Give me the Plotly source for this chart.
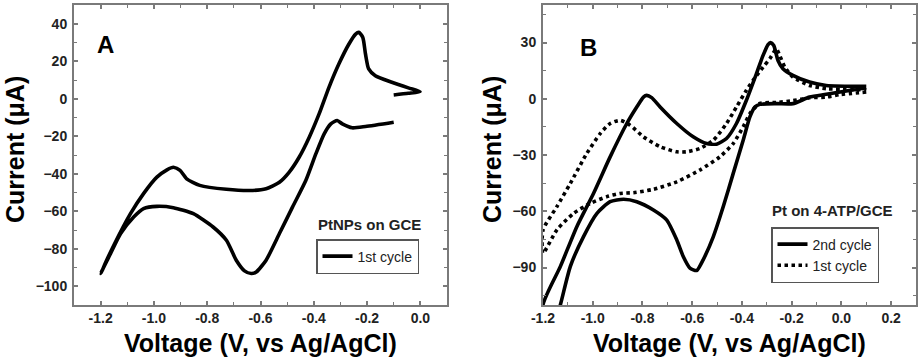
import plotly.graph_objects as go

# Panel A: PtNPs on GCE, 1st cycle (continuous CV trace)
a_v = [-0.100, -0.206, -0.256, -0.293, -0.312, -0.336, -0.361, -0.392, -0.430, -0.480,
       -0.529, -0.579, -0.616, -0.635, -0.660, -0.691, -0.728, -0.778, -0.852, -0.927,
       -0.989, -1.039, -1.076, -1.125, -1.163, -1.200,
       -1.150, -1.088, -1.039, -0.989, -0.951, -0.927, -0.902, -0.877, -0.828, -0.728,
       -0.629, -0.579, -0.529, -0.492, -0.455, -0.417, -0.380, -0.343, -0.306, -0.268,
       -0.243, -0.231, -0.216, -0.206, -0.194, -0.169, -0.107, -0.045, -0.001, -0.045, -0.100]
a_i = [-12.5, -14.8, -15.5, -13.4, -11.6, -13.4, -18.7, -29.3, -43.6, -57.8,
       -71.9, -86.1, -92.4, -93.2, -91.8, -86.1, -75.5, -68.4, -61.3, -58.1,
       -57.4, -58.6, -63.1, -71.9, -82.6, -93.2,
       -78.0, -61.3, -50.6, -41.8, -37.9, -36.5, -38.2, -42.7, -46.2, -48.3,
       -48.9, -48.0, -44.5, -39.1, -31.2, -20.5, -8.1, 6.1, 18.5, 29.2,
       34.5, 35.4, 32.7, 23.9, 15.9, 12.3, 8.8, 5.8, 3.8, 2.9, 2.0]

# Panel B: Pt on 4-ATP/GCE, 2nd cycle
b2_v = [0.100, -0.061, -0.128, -0.195, -0.261, -0.328, -0.348, -0.368, -0.395, -0.435,
        -0.475, -0.515, -0.556, -0.582, -0.609, -0.636, -0.662, -0.703, -0.756, -0.823,
        -0.876, -0.930, -0.983, -1.037, -1.090, -1.130, -1.170, -1.200,
        -1.200, -1.130, -1.064, -0.997, -0.930, -0.863, -0.823, -0.796, -0.783, -0.763,
        -0.729, -0.662, -0.596, -0.542, -0.502, -0.462, -0.422, -0.382, -0.342, -0.315,
        -0.295, -0.285, -0.272, -0.255, -0.235, -0.195, -0.128, -0.061, 0.100]
b2_i = [5.9, 2.4, 0.9, -2.6, -2.6, -3.0, -4.4, -9.7, -22.1, -39.8,
        -57.5, -73.5, -85.9, -91.6, -90.3, -84.1, -75.3, -64.6, -59.3, -54.9,
        -53.6, -54.9, -61.1, -73.5, -89.4, -109.8, -128.0, -140.0,
        -109.8, -89.4, -68.2, -50.5, -31.0, -13.2, -4.4, 0.9, 1.8, 0.6,
        -4.4, -13.2, -20.3, -23.9, -24.2, -21.2, -13.2, -0.8, 13.3, 23.1,
        28.9, 30.0, 28.4, 20.4, 16.0, 12.5, 8.9, 7.1, 6.6]

# Panel B: 1st cycle
b1_v = [0.100, -0.006, -0.061, -0.128, -0.195, -0.261, -0.328, -0.368, -0.395, -0.435,
        -0.489, -0.569, -0.662, -0.756, -0.836, -0.890, -0.943, -1.010, -1.077, -1.144, -1.200,
        -1.200, -1.144, -1.090, -1.024, -0.970, -0.930, -0.890, -0.850, -0.796, -0.729,
        -0.662, -0.622, -0.569, -0.515, -0.462, -0.422, -0.382, -0.355, -0.315, -0.288,
        -0.268, -0.261, -0.248, -0.228, -0.195, -0.128, -0.061, 0.100]
b1_i = [3.6, 2.2, 0.9, 0.5, -1.0, -2.0, -2.5, -7.9, -15.0, -23.9,
        -31.0, -38.0, -44.3, -48.3, -50.1, -50.5, -52.2, -55.8, -61.1, -69.9, -82.4,
        -70.0, -57.5, -45.1, -29.2, -18.6, -13.2, -11.5, -14.1, -20.3, -25.6,
        -28.3, -28.3, -26.5, -22.1, -13.2, -4.4, 4.5, 9.8, 16.9, 21.3,
        25.7, 26.6, 23.1, 16.9, 11.6, 7.1, 5.4, 4.8]

xa_ticks = [-1.2, -1.0, -0.8, -0.6, -0.4, -0.2, 0.0]
ya_ticks = [40, 20, 0, -20, -40, -60, -80, -100]
xb_ticks = [-1.2, -1.0, -0.8, -0.6, -0.4, -0.2, 0.0, 0.2]
yb_ticks = [30, 0, -30, -60, -90]

FONT = "Liberation Sans, Arial, sans-serif"
FRAME = "#7a7a7a"

fig = go.Figure()
fig.add_trace(go.Scatter(x=a_v, y=a_i, mode="lines", name="1st cycle",
                         line=dict(color="black", width=3.6, shape="spline", smoothing=0.6),
                         xaxis="x", yaxis="y", legend="legend"))
fig.add_trace(go.Scatter(x=b2_v, y=b2_i, mode="lines", name="2nd cycle",
                         line=dict(color="black", width=3.6, shape="spline", smoothing=0.6),
                         xaxis="x2", yaxis="y2", legend="legend2"))
fig.add_trace(go.Scatter(x=b1_v, y=b1_i, mode="lines", name="1st cycle",
                         line=dict(color="black", width=3.6, dash="3.5px,3.5px",
                                   shape="spline", smoothing=0.6),
                         xaxis="x2", yaxis="y2", legend="legend2"))

TICKFONT = dict(family=FONT, size=14, color="#222", weight=700)

def xax(domain, rng, ticks, anchor):
    return dict(domain=domain, range=rng, tickvals=ticks,
                ticktext=[f"{t:.1f}" for t in ticks], anchor=anchor,
                showline=True, linecolor=FRAME, linewidth=2, mirror="allticks",
                ticks="inside", ticklen=4, tickwidth=1.5, tickcolor=FRAME,
                minor=dict(dtick=0.1, ticks="inside", ticklen=3, tickcolor=FRAME, tickwidth=1.2),
                showgrid=False, zeroline=False, automargin=False,
                ticklabelstandoff=-1, tickfont=TICKFONT)

def yax(rng, ticks, minor, anchor):
    return dict(domain=[0, 1], range=rng, tickvals=ticks, anchor=anchor,
                showline=True, linecolor=FRAME, linewidth=2, mirror="allticks",
                ticks="inside", ticklen=4, tickwidth=1.5, tickcolor=FRAME,
                minor=dict(dtick=minor, tick0=0, ticks="inside", ticklen=3, tickcolor=FRAME, tickwidth=1.2),
                showgrid=False, zeroline=False, automargin=False,
                ticklabelstandoff=2, tickfont=TICKFONT)

W, H = 920, 364

def px(x):
    return x / W

def py(y):
    return (305 - y) / 300

LEGFONT = dict(family=FONT, size=14, color="#222")
fig.update_layout(
    width=W, height=H, template=None,
    paper_bgcolor="white", plot_bgcolor="white",
    margin=dict(l=0, r=0, t=5, b=59),
    font=dict(family=FONT, color="black"),
    xaxis=xax([74 / W, 447 / W], [-1.3, 0.1], xa_ticks, "y"),
    yaxis=yax([-110, 50], ya_ticks, 10, "x"),
    xaxis2=xax([543 / W, 916 / W], [-1.2, 0.3], xb_ticks, "y2"),
    yaxis2=yax([-110, 50], yb_ticks, 15, "x2"),
    legend=dict(x=px(316), y=py(239), xanchor="left", yanchor="top",
                bordercolor="#555", borderwidth=1.5, bgcolor="white",
                font=LEGFONT, tracegroupgap=0, itemwidth=30),
    legend2=dict(x=px(771), y=py(227), xanchor="left", yanchor="top",
                 bordercolor="#555", borderwidth=1.5, bgcolor="white",
                 font=LEGFONT, tracegroupgap=0, itemwidth=30),
    showlegend=True,
)

def ann(text, x, y, size, rot=0, color="black"):
    fig.add_annotation(text=text, xref="paper", yref="paper", x=px(x), y=py(y),
                       showarrow=False, textangle=rot, xanchor="center", yanchor="middle",
                       font=dict(family=FONT, size=size, color=color))

# panel letters
ann("<b>A</b>", 105, 45, 24)
ann("<b>B</b>", 588, 48, 24)
# legend titles
ann("<b>PtNPs on GCE</b>", 369, 224, 15, color="#222")
ann("<b>Pt on 4-ATP/GCE</b>", 832, 210, 15, color="#222")
# axis titles
ann("<b>Voltage (V, vs Ag/AgCl)</b>", 260.5, 343, 25)
ann("<b>Voltage (V, vs Ag/AgCl)</b>", 729.5, 343, 25)
ann("<b>Current (μA)</b>", 15, 150, 25, rot=-90)
ann("<b>Current (μA)</b>", 492, 150, 25, rot=-90)

fig.write_html("out.html", config={"displayModeBar": False},
               post_script="document.body.style.margin='0';document.body.style.overflow='hidden';")
